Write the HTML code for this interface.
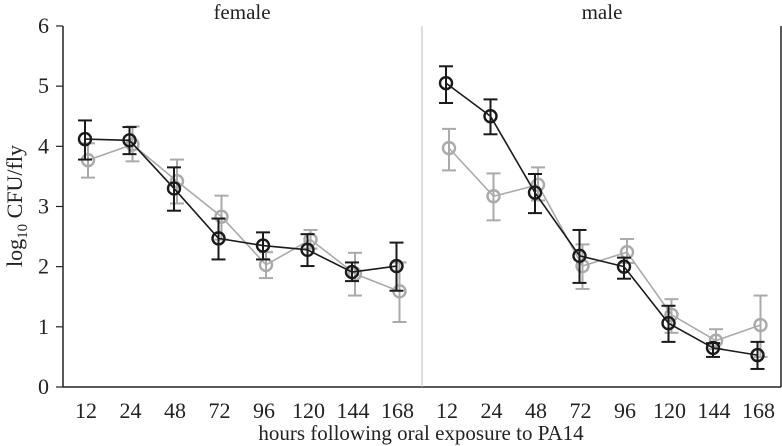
<!DOCTYPE html>
<html><head><meta charset="utf-8"><style>
html,body{margin:0;padding:0;background:#fff;}
svg{display:block;font-family:"Liberation Serif",serif;}
</style></head><body>
<svg id="chart" width="782" height="446"></svg>
<script>
const categories=["12","24","48","72","96","120","144","168"];
const yTicks=[0,1,2,3,4,5,6];
const femaleBlack=[4.12,4.1,3.3,2.47,2.35,2.28,1.91,2.01];
const femaleBlackLo=[3.78,3.87,2.93,2.12,2.12,2.01,1.76,1.6];
const femaleBlackHi=[4.43,4.32,3.65,2.8,2.57,2.54,2.07,2.4];
const femaleGray=[3.77,4.03,3.42,2.83,2.03,2.45,1.88,1.59];
const femaleGrayLo=[3.48,3.75,3.05,2.45,1.81,2.3,1.52,1.08];
const femaleGrayHi=[4.05,4.33,3.78,3.18,2.24,2.61,2.23,2.07];
const maleBlack=[5.05,4.5,3.23,2.18,2.0,1.06,0.65,0.53];
const maleBlackLo=[4.72,4.2,2.89,1.73,1.8,0.75,0.5,0.3];
const maleBlackHi=[5.33,4.78,3.54,2.61,2.15,1.35,0.73,0.75];
const maleGray=[3.97,3.17,3.36,2.01,2.24,1.2,0.77,1.03];
const maleGrayLo=[3.6,2.77,3.1,1.63,2.06,0.9,0.63,0.5];
const maleGrayHi=[4.29,3.55,3.65,2.37,2.46,1.46,0.96,1.52];

const NS="http://www.w3.org/2000/svg";
const svg=document.getElementById('chart');
const y0=387, ppu=60.17;
function yScale(v){return y0-v*ppu;}
const panels=[{name:'female',x0:86,title:'female',tx:242,b:[femaleBlack,femaleBlackLo,femaleBlackHi],g:[femaleGray,femaleGrayLo,femaleGrayHi]},
 {name:'male',x0:447,title:'male',tx:602,b:[maleBlack,maleBlackLo,maleBlackHi],g:[maleGray,maleGrayLo,maleGrayHi]}];
const step=44.5;
function mk(tag,attrs,parent){const e=document.createElementNS(NS,tag);for(const k in attrs)e.setAttribute(k,attrs[k]);(parent||svg).appendChild(e);return e;}

let ax=mk('line',{x1:63,y1:26,x2:63,y2:387.5,stroke:'#222','stroke-width':1.5});


ax=mk('line',{x1:62.5,y1:387,x2:781,y2:387,stroke:'#222','stroke-width':1.5});


ax=mk('line',{x1:781,y1:26,x2:781,y2:387,stroke:'#222','stroke-width':1.5});


ax=mk('line',{x1:422,y1:26,x2:422,y2:387,stroke:'#bbb','stroke-width':1});



yTicks.forEach(v=>{
  const y=yScale(v);
  const t=mk('line',{x1:56,y1:y,x2:63,y2:y,stroke:'#222','stroke-width':1.2});
  
  
  const l=mk('text',{x:49,y:y+7,'text-anchor':'end','font-size':22,fill:'#222'});
  l.textContent=v;
  
  
});

panels.forEach(p=>{
  const xs=i=>p.x0+i*step;
  const tt=mk('text',{x:p.tx,y:19,'text-anchor':'middle','font-size':21,fill:'#222'});
  tt.textContent=p.title;
  
  
  categories.forEach((c,i)=>{
    const l=mk('text',{x:xs(i),y:418,'text-anchor':'middle','font-size':22,fill:'#222'});
    l.textContent=c;
    
    
  });
  [[p.g,'#aaa',2,'gray'],[p.b,'#1a1a1a',-1,'black']].forEach(([s,col,off,sn])=>{
    const [m,lo,hi]=s;
    const pts=m.map((v,i)=>(xs(i)+off)+','+yScale(v)).join(' ');
    const pl=mk('polyline',{points:pts,fill:'none',stroke:col,'stroke-width':1.6});
    
    
    m.forEach((v,i)=>{
      const x=xs(i)+off;
      const g=mk('g',{});
      
      
      mk('line',{x1:x,y1:yScale(lo[i]),x2:x,y2:yScale(hi[i]),stroke:col,'stroke-width':2},g);
      mk('line',{x1:x-7,y1:yScale(lo[i]),x2:x+7,y2:yScale(lo[i]),stroke:col,'stroke-width':2},g);
      mk('line',{x1:x-7,y1:yScale(hi[i]),x2:x+7,y2:yScale(hi[i]),stroke:col,'stroke-width':2},g);
      mk('circle',{cx:x,cy:yScale(v),r:6,fill:'none',stroke:col,'stroke-width':2.4},g);
    });
  });
});

const xl=mk('text',{x:421,y:440,'text-anchor':'middle','font-size':21,fill:'#222'});
xl.textContent='hours following oral exposure to PA14';


const yl=mk('text',{transform:'translate(22,206) rotate(-90)','text-anchor':'middle','font-size':22,fill:'#222'});
yl.innerHTML='log<tspan font-size="15" dy="5">10</tspan><tspan dy="-5"> CFU/fly</tspan>';


</script>
</body></html>
